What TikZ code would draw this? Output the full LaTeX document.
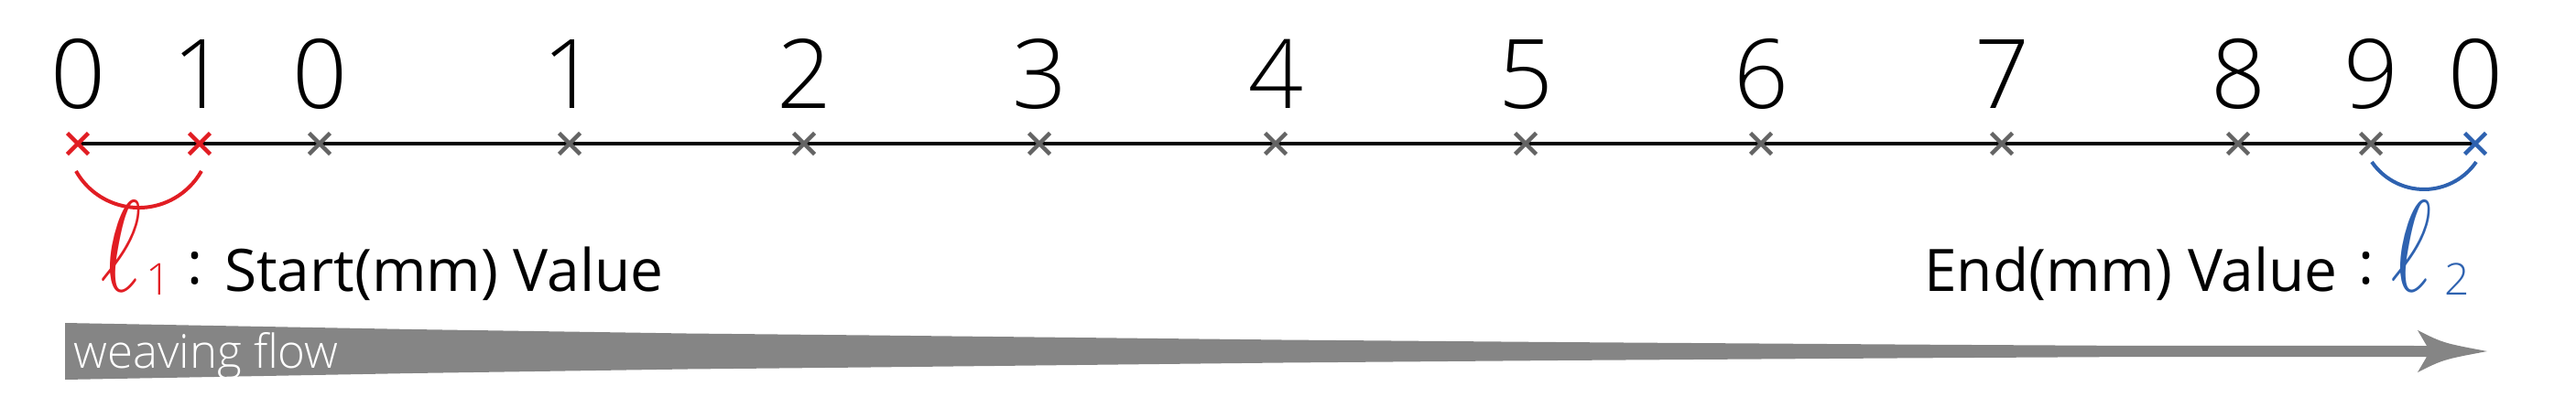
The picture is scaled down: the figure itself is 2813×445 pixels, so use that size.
\documentclass[tikz,border=0pt]{standalone}
\usepackage{fontspec}
\IfFontExistsTF{Open Sans Light}{\setmainfont{Open Sans Light}}{\setmainfont{Open Sans}}
\newfontfamily\regfont{Open Sans}
\newfontfamily\ellfont{latinmodern-math.otf}
\definecolor{myred}{RGB}{225,29,35}
\definecolor{myblue}{RGB}{46,98,176}
\definecolor{xgray}{RGB}{100,100,100}
\definecolor{bargray}{RGB}{133,133,133}
\tikzset{
  digit/.style={anchor=base,inner sep=0pt,font=\fontsize{105}{105}\selectfont},
  lbl/.style={anchor=base west,inner sep=0pt,font=\regfont\fontsize{64}{64}\selectfont},
  colonlbl/.style={anchor=base,inner sep=0pt,font=\regfont\fontsize{64}{64}\selectfont},
  ellsym/.style={anchor=base,inner sep=0pt,font=\ellfont\fontsize{142}{142}\selectfont},
  subnum/.style={anchor=base,inner sep=0pt,font=\fontsize{48}{48}\selectfont},
  flowtxt/.style={anchor=base west,inner sep=0pt,text=white,font=\fontsize{51}{51}\selectfont},
  axisline/.style={line width=3.5pt,black},
  arcline/.style={line width=4pt},
  pics/xcross/.style={code={\draw[line width=4.5pt] (-11.5,-11.5)--(11.5,11.5) (-11.5,11.5)--(11.5,-11.5);}}
}
\begin{document}
\begin{tikzpicture}[x=1pt,y=-1pt]
\useasboundingbox (0,0) rectangle (2813,445);
% tick coordinates
\foreach \n/\x in {0/85,1/218,2/349,3/622,4/878,5/1135,6/1393,7/1666,8/1923,9/2186,10/2444,11/2589,12/2703}
  \coordinate (c\n) at (\x,157);
\draw[axisline] (c0) -- (c12);
% digits
\foreach \n/\d in {0/0,1/1,2/0,3/1,4/2,5/3,6/4,7/5,8/6,9/7,10/8,11/9,12/0}
  \node[digit] (d\n) at ([yshift=39pt]c\n) {\d};
% crosses
\foreach \n in {2,...,11} \pic[xgray] at (c\n) {xcross};
\pic[myred] at (c0) {xcross};
\pic[myred] at (c1) {xcross};
\pic[myblue] at (c12) {xcross};
% arcs
\coordinate (ra) at (83,187);
\coordinate (rb) at (220,187);
\draw[arcline,myred] (ra) arc[start angle=150.6,end angle=29.4,radius=78.6];
\coordinate (ba) at (2590,177);
\coordinate (bb) at (2704,177);
\draw[arcline,myblue] (ba) arc[start angle=145.5,end angle=34.5,radius=69.15];
% left label
\node[ellsym,text=myred] (l1) at (132.5,318) {\scalebox{0.75}[1]{ℓ}};
\node[subnum,text=myred] (s1) at (173.5,322) {1};
\node[colonlbl] (k1) at (213,310) {:};
\node[lbl] (t1) at (245,318) {Start(mm) Value};
% right label
\node[lbl,anchor=base east] (t2) at (2553,318) {End(mm) Value};
\node[colonlbl] (k2) at (2584,310) {:};
\node[ellsym,text=myblue] (l2) at (2634,318) {\scalebox{0.75}[1]{ℓ}};
\node[subnum,text=myblue] (s2) at (2683,322) {2};
% flow arrow
\fill[bargray] (71,353) -- (450,360) -- (750,364.5) -- (950,366.5) -- (1400,371.5) -- (1700,374) -- (2100,376.7) -- (2300,377.8) -- (2650,378)
  -- (2640,361) .. controls (2668,375) .. (2716,384) .. controls (2668,393) .. (2640,407) -- (2650,390)
  -- (2300,390.2) -- (2100,391.3) -- (1700,394) -- (1400,396.5) -- (950,401.5) -- (750,403.5) -- (450,408) -- (71,415) -- cycle;
\node[flowtxt] (wf) at (80,402) {weaving flow};
\end{tikzpicture}
\end{document}
